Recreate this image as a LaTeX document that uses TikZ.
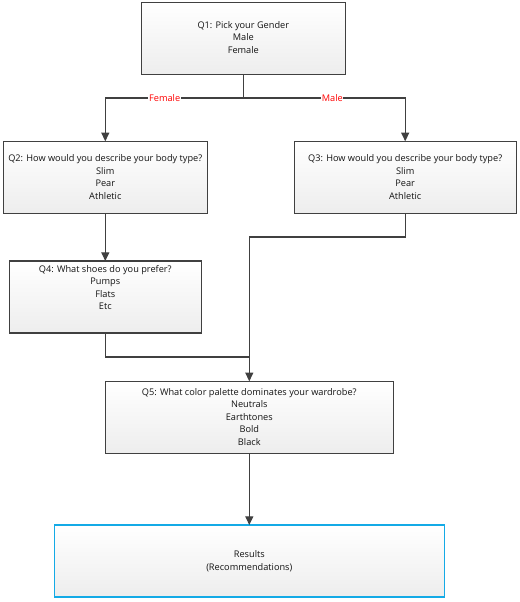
\documentclass[tikz,border=0pt]{standalone}
\usepackage{fontspec}
\setmainfont{Open Sans}
\usetikzlibrary{arrows.meta}
\definecolor{edge}{RGB}{64,64,64}
\definecolor{resblue}{RGB}{20,170,230}
\tikzset{
  x=0.75pt, y=-0.75pt,
  qbox/.style={draw=edge, line width=0.9pt, top color=white, bottom color=black!7,
    minimum height=54pt, inner sep=0pt, outer sep=0pt},
  rbox/.style={qbox, draw=resblue},
  txt/.style={align=center, font=\fontsize{6.9}{9.4}\selectfont, inner sep=0pt, text=black!92},
  conn/.style={draw=edge, line width=0.9pt},
  arr/.style={conn, -{Triangle[width=6pt,length=6.5pt]}},
  elabel/.style={fill=white, text=red, inner sep=0.5pt, font=\fontsize{6.9}{8}\selectfont}
}
\begin{document}
\begin{tikzpicture}
\useasboundingbox (0,0) rectangle (520,602);
\node[qbox, minimum width=153pt] (q1) at (243.3,38.3) {};
\node[txt] (q1t) at (243.3,37.5) {Q1: Pick your Gender\\Male\\Female};
\node[qbox, minimum width=153pt] (q2) at (105.3,177.3) {};
\node[txt] (q2t) at (105.3,177) {Q2: How would you describe your body type?\\Slim\\Pear\\Athletic};
\node[qbox, minimum width=166.5pt] (q3) at (405.2,177.3) {};
\node[txt] (q3t) at (405.2,177) {Q3: How would you describe your body type?\\Slim\\Pear\\Athletic};
\node[qbox, minimum width=144pt] (q4) at (105.3,297) {};
\node[txt] (q4t) at (105.3,287.5) {Q4: What shoes do you prefer?\\Pumps\\Flats\\Etc};
\node[qbox, minimum width=216pt] (q5) at (249.3,417.3) {};
\node[txt] (q5t) at (249.3,417) {Q5: What color palette dominates your wardrobe?\\Neutrals\\Earthtones\\Bold\\Black};
\node[rbox, minimum width=292.5pt] (res) at (249.3,561) {};
\node[txt] (rest) at (249.3,561.3) {Results\\(Recommendations)};

\coordinate (split) at (243.3,98);
\coordinate (j3) at (405.2,237);
\coordinate (j4) at (105.3,357);
\coordinate (jm) at (249.3,357);

\draw[conn] (q1.south) -- (split);
\draw[arr] (split) -- (105.3,98) node[elabel, pos=0.57] (lf) {Female} -- (q2.north);
\draw[arr] (split) -- (405.2,98) node[elabel, pos=0.55] (lm) {Male} -- (q3.north);
\draw[arr] (q2.south) -- (q4.north);
\draw[arr] (q3.south) -- (j3) -| (q5.north);
\draw[conn] (q4.south) -- (j4) -- (jm);
\draw[arr] (q5.south) -- (res.north);
\end{tikzpicture}
\end{document}
